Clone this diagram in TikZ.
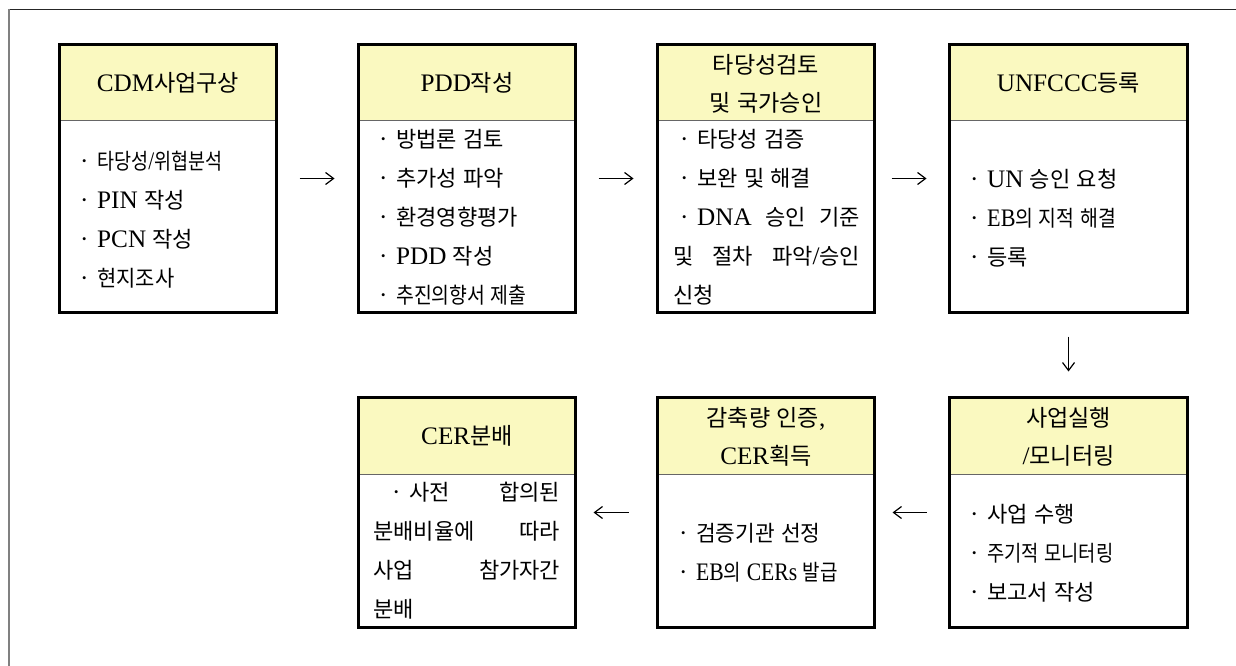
\documentclass[tikz,border=0pt]{standalone}
\usepackage{fontspec}
\usepackage{graphicx}
\setmainfont{Liberation Serif}[Scale=1.2]
\newfontfamily\krB{Noto Sans CJK KR}[Scale=1.05]
\newfontfamily\krH{Noto Sans CJK KR}[Scale=1.1]
\newcommand\tokr{\krB}
\usetikzlibrary{arrows.meta}
\XeTeXinterchartokenstate=1
\newXeTeXintercharclass\krclass
\makeatletter
\count@="AC00
\loop
  \XeTeXcharclass\count@=\krclass
  \advance\count@ by 1
\ifnum\count@<"D7A4 \repeat
\makeatother
\XeTeXinterchartoks 0 \krclass = {\tokr}
\XeTeXinterchartoks 4095 \krclass = {\tokr}
\XeTeXinterchartoks \krclass 0 = {\rmfamily}
\XeTeXinterchartoks \krclass 4095 = {\rmfamily}
\definecolor{hdr}{RGB}{250,249,192}
\newcommand\bul{\makebox[22pt][c]{\rmfamily ·}\hspace{2pt}}
\newcommand\jl[1]{\makebox[187pt][s]{#1}}
\newcommand\sx[2]{\scalebox{#1}[1]{#2}}
\tikzset{
  frame/.style={draw=black, line width=3pt, inner sep=0pt},
  headfill/.style={fill=hdr},
  divline/.style={draw=black!60, line width=1pt},
  headtxt/.style={align=center, font=\fontsize{21}{38}\selectfont\let\tokr\krH, inner sep=0pt},
  bodytxt/.style={align=left, font=\fontsize{21}{39}\selectfont\let\tokr\krB, inner sep=0pt, anchor=west},
  flow/.style={-{Straight Barb[length=8pt,width=12pt]}, line width=1.2pt},
}
\newcommand\flowbox[6]{%
  \fill[headfill] (#2,#4) rectangle (#3,#5);
  \draw[divline] (#2,#5) -- (#3,#5);
  \node[frame, minimum width={#3-#2-3}, minimum height={#6-#4-3}] (#1) at ({(#2+#3)/2},{(#4+#6)/2}) {};
}
\begin{document}
\begin{tikzpicture}[x=1pt,y=-1pt]
\useasboundingbox (0,0) rectangle (1236,666);
\fill[white] (0,0) rectangle (1236,666);
% outer page frame
\draw[black!85, line width=1pt] (8,9.5) -- (1236,9.5);
\draw[black!50, line width=2pt] (9,9) -- (9,666);

% top row
\flowbox{b1}{58}{278}{43}{121}{314}
\flowbox{b2}{357}{577}{43}{121}{314}
\flowbox{b3}{656}{876}{43}{121}{314}
\flowbox{b4}{948}{1189}{43}{121}{314}
% bottom row
\flowbox{b5}{948}{1189}{396}{474}{629}
\flowbox{b6}{656}{876}{396}{474}{629}
\flowbox{b7}{357}{577}{396}{474}{629}

% headers
\node[headtxt] (h1) at (168,83) {CDM사업구상};
\node[headtxt] (h2) at (467,83) {PDD작성};
\node[headtxt] (h3) at (766,84) {타당성검토\\및 국가승인};
\node[headtxt] (h4) at (1068.5,83) {UNFCCC등록};
\node[headtxt] (h5) at (1068.5,437) {사업실행\\/모니터링};
\node[headtxt] (h6) at (766,437) {감축량 인증,\\CER획득};
\node[headtxt] (h7) at (467,436) {CER분배};

% bodies
\node[bodytxt] (t1) at (73,220) {\bul\sx{0.84}{타당성/위협분석}\\\bul PIN 작성\\\bul PCN 작성\\\bul\sx{0.95}{현지조사}};
\node[bodytxt] (t2) at (372,217) {\bul 방법론 검토\\\bul 추가성 파악\\\bul 환경영향평가\\\bul PDD 작성\\\bul\sx{0.88}{추진의향서 제출}};
\node[bodytxt] (t3) at (673,217) {\bul 타당성 검증\\\bul 보완 및 해결\\\jl{\bul DNA 승인 기준}\\\jl{및 절차 파악/승인}\\신청};
\node[bodytxt] (t4) at (963,218) {\bul UN 승인 요청\\\bul\sx{0.88}{EB의 지적 해결}\\\bul 등록};
\node[bodytxt] (t5) at (963,553) {\bul 사업 수행\\\bul\sx{0.85}{주기적 모니터링}\\\bul 보고서 작성};
\node[bodytxt] (t6) at (672,553) {\bul\sx{0.97}{검증기관 선정}\\\bul\sx{0.86}{EB의 CERs 발급}};
\node[bodytxt] (t7) at (373,551) {\jl{\hspace*{12pt}\bul 사전 합의된}\\\jl{분배비율에 따라}\\\jl{사업 참가자간}\\분배};

% connectors
\draw[flow, shorten <=21.5pt, shorten >=22.5pt] (b1) -- (b2);
\draw[flow, shorten <=21.5pt, shorten >=22.5pt] (b2) -- (b3);
\draw[flow, shorten <=15.5pt, shorten >=21.5pt] (b3) -- (b4);
\draw[flow, shorten <=22.5pt, shorten >=24.5pt] (b4) -- (b5);
\draw[flow, shorten <=21.5pt, shorten >=16.5pt] (b5) -- (b6);
\draw[flow, shorten <=27.5pt, shorten >=16.5pt] (b6) -- (b7);
\end{tikzpicture}
\end{document}
